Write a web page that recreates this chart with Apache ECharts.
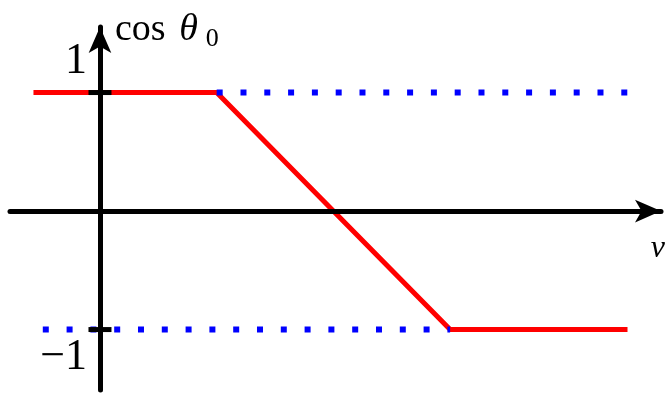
<!DOCTYPE html>
<html><head><meta charset="utf-8">
<script src="https://cdn.jsdelivr.net/npm/echarts@6/dist/echarts.min.js"></script>
<style>html,body{margin:0;padding:0;background:#fff}#chart{width:669px;height:393px}</style>
</head><body><div id="chart"></div>
<script>
// cos θ0 against v: saturated at 1, linear ramp, saturated at -1
const curveV = [-0.57, 1, 3, 4.52];
const curveCos = [1, 1, -1, -1];
// dotted continuation of the two bounds
const upperBoundV = [1, 4.54];
const upperBoundCos = [1, 1];
const lowerBoundV = [-0.49, 3];
const lowerBoundCos = [-1, -1];
// marked values on the vertical axis
const yTickValues = [-1, 1];
const yTickLabels = { '1': '{up|1}', '-1': '{dn|−1}' };

const zip = (xs, ys) => xs.map((x, i) => [x, ys[i]]);
const serif = '"Liberation Serif", "DejaVu Serif", serif';

const axisLineStyle = { color: '#000', width: 5 };
const arrowSize = [17, 26];

// horizontal extent of the v axis; the vertical axis sits at v = 0
const vMin = -0.771, vMax = 4.807;
const cosMin = -1.51, cosMax = 1.553;
const gridLeft = 10, gridRight = 8;
const plotWidth = 669 - gridLeft - gridRight;
const yAxisShift = plotWidth * (0 - vMin) / (vMax - vMin);

// tick crosses straddling the vertical axis
function renderTick(params, api) {
  const p = api.coord([0, api.value(0)]);
  return {
    type: 'rect',
    shape: { x: p[0] - 11.5, y: p[1] - 2.5, width: 23, height: 5 },
    style: { fill: '#000' }
  };
}

const chart = echarts.init(document.getElementById('chart'), null, { renderer: 'canvas' });
chart.setOption({
  animation: false,
  backgroundColor: '#fff',
  grid: { left: gridLeft, right: gridRight, top: 27, bottom: 3, containLabel: false, outerBoundsMode: 'none' },
  xAxis: {
    type: 'value', min: vMin, max: vMax, z: 10,
    axisLine: { onZero: true, symbol: ['none', 'arrow'], symbolSize: arrowSize, lineStyle: axisLineStyle },
    axisTick: { show: false }, axisLabel: { show: false }, splitLine: { show: false },
    name: 'v', nameLocation: 'end', nameGap: 4,
    nameTextStyle: { fontFamily: serif, fontStyle: 'italic', fontSize: 32, color: '#000',
      align: 'right', verticalAlign: 'top', padding: [22, 0, 0, 0] }
  },
  yAxis: {
    type: 'value', min: cosMin, max: cosMax, z: 10,
    position: 'left', offset: -yAxisShift,
    axisLine: { onZero: false, symbol: ['none', 'arrow'], symbolSize: arrowSize, lineStyle: axisLineStyle },
    axisTick: { show: false },
    axisLabel: {
      show: true, customValues: yTickValues, margin: 13, hideOverlap: false,
      formatter: v => yTickLabels[String(v)],
      rich: {
        up: { fontFamily: serif, fontSize: 44, color: '#000', padding: [0, 0, 62, 0] },
        dn: { fontFamily: serif, fontSize: 44, color: '#000', padding: [56, 0, 0, 0] }
      }
    },
    splitLine: { show: false },
    name: '{m|cos }{it|θ}{sub|0}', nameLocation: 'end', nameGap: -3,
    nameTextStyle: {
      fontFamily: serif, fontSize: 38, color: '#000',
      align: 'left', verticalAlign: 'middle', padding: [0, 0, 0, 15],
      rich: {
        m: { fontFamily: serif, fontSize: 38, color: '#000', lineHeight: 44 },
        it: { fontFamily: serif, fontSize: 38, fontStyle: 'italic', color: '#000', lineHeight: 44, padding: [0, 8, 0, 4] },
        sub: { fontFamily: serif, fontSize: 26, color: '#000', lineHeight: 44, verticalAlign: 'bottom', padding: [20, 0, 0, 0] }
      }
    }
  },
  series: [
    {
      type: 'line', data: zip(curveV, curveCos), showSymbol: false, z: 2,
      lineStyle: { color: '#ff0000', width: 5, cap: 'butt', join: 'miter' }
    },
    {
      type: 'line', data: zip(upperBoundV, upperBoundCos), showSymbol: false, z: 3,
      lineStyle: { color: '#0000ff', width: 6, type: [6, 17.8], cap: 'butt' }
    },
    {
      type: 'line', data: zip(lowerBoundV, lowerBoundCos), showSymbol: false, z: 3,
      lineStyle: { color: '#0000ff', width: 6, type: [6, 17.8], cap: 'butt' }
    },
    {
      type: 'custom', data: yTickValues.map(y => [y]), z: 12, silent: true,
      encode: { y: 0 }, clip: false, renderItem: renderTick
    }
  ]
});
</script></body></html>
